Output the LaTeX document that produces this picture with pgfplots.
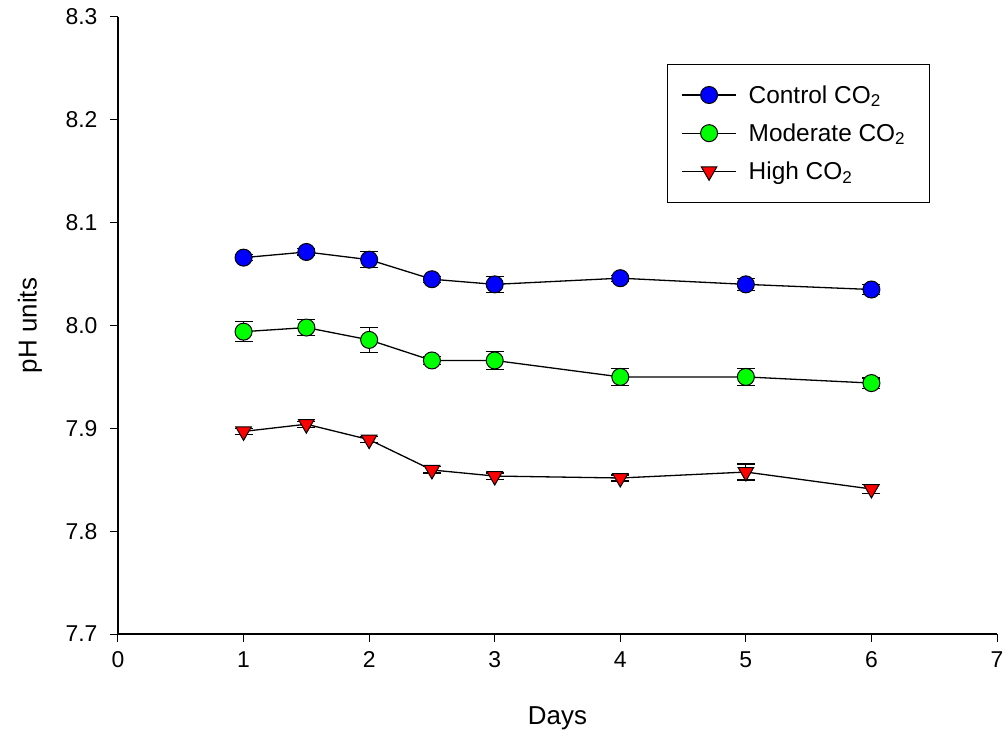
\documentclass[border=0pt]{standalone}
\usepackage{fontspec}
\setmainfont{Liberation Sans}
\usepackage{pgfplots}
\pgfplotsset{compat=1.18}
\pgfplotsset{myerr/.style={
  error bars/y dir=both, error bars/y explicit,
  error bars/error bar style={line width=1.2bp, black},
  error bars/error mark options={rotate=90, line width=1.2bp, mark size=9bp, black}}}
\begin{document}
\begin{tikzpicture}
\useasboundingbox (-118bp,-106bp) rectangle (890bp,634bp);
\begin{axis}[
  at={(0,0)}, anchor=south west,
  scale only axis, width=879bp, height=617bp,
  xmin=0, xmax=7, ymin=7.7, ymax=8.3,
  xtick={0,1,2,3,4,5,6,7},
  ytick={7.7,7.8,7.9,8.0,8.1,8.2,8.3},
  yticklabel style={xshift=-9bp, /pgf/number format/fixed, /pgf/number format/fixed zerofill, /pgf/number format/precision=1},
  /pgf/number format/assume math mode=true,
  axis x line*=bottom, axis y line*=left,
  tick align=outside, major tick length=8bp,
  tick style={black, line width=1bp},
  axis line style={black, line width=1.3bp},
  font=\fontsize{23}{27}\selectfont,
  xticklabel style={yshift=-6bp},
  xlabel={Days}, ylabel={pH units},
  every axis x label/.style={at={(axis description cs:0.5,0)}, yshift=-84bp, anchor=center, font=\fontsize{26}{30}\selectfont},
  every axis y label/.style={at={(axis description cs:0,0.5)}, xshift=-88bp, rotate=90, anchor=center, font=\fontsize{26}{30}\selectfont},
  legend style={at={(rel axis cs:0.6246,0.9238)}, anchor=north west, draw=black, line width=0.8bp,
    inner xsep=14bp, inner ysep=19bp, row sep=15bp, font=\fontsize{24.5}{28}\selectfont},
  legend cell align=left,
  legend image code/.code={\draw[mark repeat=2,mark phase=2,#1] plot coordinates {(0bp,0bp)(27bp,0bp)(54bp,0bp)};
    \path (64bp,0bp);},
  every axis plot/.append style={line width=1.3bp, black},
]
\addplot[myerr, mark=*, mark size=8.5bp, mark options={fill=blue, draw=black, line width=1bp}]
  coordinates {(1,8.066) +- (0,0.003) (1.5,8.0715) +- (0,0.003) (2,8.064) +- (0,0.0076)
  (2.5,8.045) +- (0,0.003) (3,8.040) +- (0,0.0078) (4,8.046) +- (0,0.003)
  (5,8.040) +- (0,0.006) (6,8.035) +- (0,0.005)};
\addlegendentry{Control CO\textsubscript{2}}
\addplot[myerr, mark=*, mark size=8.5bp, mark options={fill=green, draw=black, line width=1bp}]
  coordinates {(1,7.994) +- (0,0.0097) (1.5,7.998) +- (0,0.008) (2,7.986) +- (0,0.012)
  (2.5,7.966) +- (0,0.004) (3,7.966) +- (0,0.009) (4,7.950) +- (0,0.008)
  (5,7.950) +- (0,0.008) (6,7.944) +- (0,0.005)};
\addlegendentry{Moderate CO\textsubscript{2}\hspace*{8bp}}
\addplot[myerr, mark=triangle*, mark size=9bp, mark options={rotate=180, fill=red, draw=black, line width=1bp}]
  coordinates {(1,7.897) +- (0,0.003) (1.5,7.904) +- (0,0.003) (2,7.889) +- (0,0.003)
  (2.5,7.8595) +- (0,0.003) (3,7.8536) +- (0,0.003) (4,7.8517) +- (0,0.003)
  (5,7.8575) +- (0,0.0078) (6,7.841) +- (0,0.004)};
\addlegendentry{High CO\textsubscript{2}}
\end{axis}
\end{tikzpicture}
\end{document}
